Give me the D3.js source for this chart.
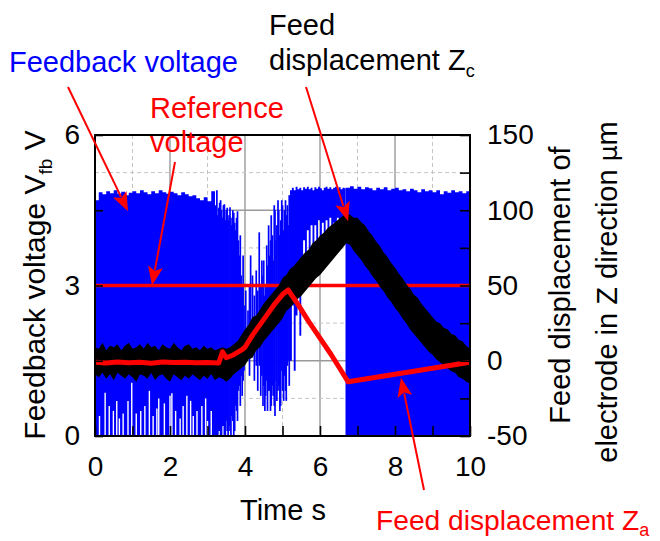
<!DOCTYPE html>
<html>
<head>
<meta charset="utf-8">
<script src="https://cdn.jsdelivr.net/npm/d3@7"></script>
<style>
    body { margin: 0; background: #fff; }
    text { font-family: "Liberation Sans", Arial, sans-serif; }
</style>
</head>
<body>
<div id="chart-area"></div>
<script>
// feedback voltage (V), dense part before approach: upper edge [t, V]
var fbTopStart = [[0, 4.70], [0.1, 4.86], [0.2, 4.82], [0.3, 4.88], [0.4, 4.84], [0.5, 4.90], [0.6, 4.83], [0.7, 4.87],
    [0.8, 4.80], [0.9, 4.85], [1.0, 4.88], [1.1, 4.84], [1.2, 4.90], [1.3, 4.86], [1.4, 4.82], [1.5, 4.88], [1.6, 4.84],
    [1.7, 4.90], [1.8, 4.86], [1.9, 4.83], [2.0, 4.87], [2.1, 4.84], [2.2, 4.80], [2.3, 4.86], [2.4, 4.82], [2.5, 4.78],
    [2.6, 4.80], [2.7, 4.74], [2.8, 4.70], [2.9, 4.76], [3.0, 4.68], [3.1, 4.88], [3.2, 4.60], [3.25, 4.60]];
// white gaps rising from the bottom of that part [t, V]
var fbGapsStart = [[0.12, 0.4], [0.27, 0.86], [0.38, 0.6], [0.49, 0.5], [0.58, 0.7], [0.65, 0.35], [0.75, 0.45],
    [0.88, 0.7], [0.98, 1.06], [1.1, 0.45], [1.22, 0.5], [1.33, 0.6], [1.45, 0.9], [1.55, 0.4], [1.65, 0.55],
    [1.7, 0.75], [1.85, 0.65], [2.0, 0.8], [2.05, 0.85], [2.15, 0.5], [2.27, 0.35], [2.35, 0.6], [2.45, 0.8],
    [2.55, 0.7], [2.62, 0.4], [2.72, 0.5], [2.85, 0.6], [2.95, 0.75], [3.0, 0.3], [3.1, 0.5]];
// single spikes while the electrode comes down [t, low V, high V]
var fbSpikes = [[3.25, 0.0, 4.9], [3.275, 0.0, 4.4], [3.3, 0.1, 4.55], [3.325, 0.1, 4.65], [3.35, 0.0, 4.7],
    [3.375, 0.0, 4.5], [3.4, 0.2, 4.35], [3.425, 0.2, 4.6], [3.45, 0.0, 4.62], [3.475, 0.0, 4.3], [3.5, 0.3, 4.5],
    [3.525, 0.1, 4.55], [3.55, 0.0, 4.3], [3.575, 0.2, 4.4], [3.6, 0.1, 4.56], [3.625, 0.0, 4.35], [3.65, 0.4, 4.2],
    [3.675, 0.3, 4.5], [3.7, 0.0, 4.45], [3.725, 0.1, 4.25], [3.75, 0.6, 4.1], [3.775, 0.5, 4.35], [3.8, 0.3, 4.48],
    [3.825, 0.9, 3.9], [3.85, 1.0, 3.6], [3.875, 0.6, 4.0], [3.9, 1.2, 3.2], [3.925, 0.8, 3.0], [3.95, 1.1, 3.6],
    [3.975, 1.3, 2.6], [4.02, 1.5, 2.9], [4.08, 1.6, 2.5], [4.12, 1.2, 3.0], [4.15, 1.7, 3.6], [4.2, 1.6, 3.2],
    [4.25, 1.1, 2.8], [4.3, 1.4, 3.3], [4.34, 0.9, 2.9], [4.38, 1.4, 4.06], [4.42, 0.8, 3.0], [4.45, 1.2, 3.5],
    [4.48, 0.6, 3.2], [4.5, 1.0, 3.5], [4.53, 0.5, 2.8], [4.55, 0.8, 3.0], [4.58, 1.1, 3.8], [4.6, 0.5, 3.4],
    [4.63, 0.9, 4.2], [4.65, 0.9, 3.6], [4.68, 0.5, 3.9], [4.7, 0.6, 4.4], [4.73, 1.0, 4.0], [4.75, 0.8, 3.5],
    [4.78, 0.6, 4.6], [4.8, 0.4, 4.5], [4.83, 1.1, 3.9], [4.85, 0.7, 4.2], [4.88, 0.9, 4.7], [4.9, 1.0, 4.5],
    [4.93, 0.5, 4.0], [4.95, 0.6, 4.3], [4.98, 1.3, 4.7], [5.0, 0.9, 4.6], [5.03, 0.7, 4.1], [5.05, 1.2, 4.5],
    [5.08, 0.9, 4.7], [5.1, 0.7, 4.4], [5.13, 1.4, 4.6], [5.15, 1.5, 4.2], [5.18, 1.0, 4.8]];
// band hanging from the top while retracting [t, low V, high V]
var fbHanging = [[5.2, 1.5, 4.9], [5.25, 2.6, 4.95], [5.3, 1.3, 4.9], [5.35, 2.4, 4.97], [5.4, 3.1, 4.92], [5.45, 2.0, 4.95],
    [5.5, 3.4, 4.9], [5.55, 3.9, 4.96], [5.6, 3.3, 4.93], [5.65, 4.1, 4.97], [5.7, 3.7, 4.92], [5.75, 4.2, 4.95],
    [5.8, 3.5, 4.9], [5.85, 4.2, 4.96], [5.9, 3.8, 4.93], [5.95, 4.3, 4.97], [6.0, 3.9, 4.94], [6.05, 4.25, 4.9],
    [6.1, 3.6, 4.95], [6.15, 4.3, 4.97], [6.2, 4.0, 4.93], [6.25, 4.35, 4.96], [6.3, 3.9, 4.92], [6.35, 4.25, 4.95],
    [6.4, 4.1, 4.97], [6.45, 4.35, 4.93], [6.5, 4.0, 4.96], [6.55, 4.25, 4.92], [6.6, 3.8, 4.95], [6.65, 4.3, 4.94],
    [6.68, 4.3, 4.94]];
// dense part after contact: upper edge [t, V]
var fbTopEnd = [[6.68, 4.95], [6.8, 4.98], [6.9, 4.93], [7.0, 4.97], [7.1, 4.92], [7.2, 4.96], [7.3, 4.94], [7.4, 4.90],
    [7.5, 4.95], [7.6, 4.92], [7.7, 4.96], [7.8, 4.90], [7.9, 4.93], [8.0, 4.95], [8.1, 4.90], [8.2, 4.92], [8.3, 4.88],
    [8.4, 4.93], [8.5, 4.90], [8.6, 4.86], [8.7, 4.92], [8.8, 4.88], [8.9, 4.90], [9.0, 4.86], [9.1, 4.90], [9.2, 4.82],
    [9.3, 4.88], [9.4, 4.85], [9.5, 4.90], [9.6, 4.86], [9.7, 4.88], [9.8, 4.84], [9.9, 4.88], [10.0, 4.86]];

var refVoltage = 3;

// feed displacement Zc (um), noisy band, one sample every 0.1 s
var zcStep = 0.1;
var zcLow = [-9, -11, -8, -12, -9, -13, -8, -10, -12, -9,
    -11, -14, -9, -10, -12, -8, -13, -10, -9, -12,
    -14, -9, -11, -13, -10, -12, -9, -11, -13, -10,
    -12, -9, -13, -11, -12, -14, -12, -9, -7, -5,
    -3, 1, 2, 7, 9, 13, 16, 19, 22, 25,
    28, 33, 35, 38, 41, 43, 46, 49, 52, 55,
    57, 60, 63, 66, 69, 72, 75, 78, 77, 73,
    70, 67, 63, 60, 56, 53, 49, 46, 42, 39,
    35, 32, 28, 25, 21, 18, 15, 12, 9, 6,
    4, 1, -1, -3, -5, -7, -8, -11, -12, -14,
    -15];
var zcHigh = [9, 8, 12, 7, 10, 9, 11, 7, 10, 12,
    8, 9, 11, 8, 12, 9, 10, 7, 11, 9,
    8, 12, 9, 7, 10, 11, 8, 9, 7, 10,
    8, 9, 7, 8, 9, 8, 9, 11, 13, 17,
    21, 24, 29, 30, 34, 38, 41, 44, 47, 50,
    55, 57, 61, 63, 66, 69, 72, 74, 78, 80,
    83, 85, 88, 90, 92, 94, 96, 98, 97, 95,
    95, 92, 90, 86, 83, 79, 76, 72, 69, 65,
    62, 58, 55, 51, 48, 44, 42, 38, 35, 32,
    29, 26, 25, 22, 21, 18, 17, 14, 13, 10,
    8];

// feed displacement Za (um)
var zaTime = [0, 0.3, 0.6, 0.9, 1.2, 1.5, 1.8, 2.1, 2.4, 2.7, 3.0, 3.3, 3.4, 3.5, 3.6, 3.7, 3.9, 4.0, 4.2, 4.4,
    4.6, 4.8, 5.0, 5.15, 5.4, 5.7, 6.0, 6.3, 6.6, 6.75, 7.0, 7.5, 8.0, 8.5, 9.0, 9.5, 10];
var zaValue = [-1, -1.5, -0.8, -1.3, -1, -1.6, -0.9, -1.2, -1, -1.4, -1.1, -1.5, 6, 2, 3, 4, 7, 9, 17, 24,
    31, 38, 44, 47, 38, 26, 15, 4, -8, -14, -13, -11, -9, -7, -5, -3, -1];

var xTicks = [0, 1, 2, 3, 4, 5, 6, 7, 8, 9, 10];
var xLabels = [0, 2, 4, 6, 8, 10];
var leftTicks = [0, 1.5, 3, 4.5, 6];
var leftLabels = [0, 3, 6];
var rightTicks = [-50, -25, 0, 25, 50, 75, 100, 125, 150];
var rightLabels = [-50, 0, 50, 100, 150];


function FeedChart(_parentElement) {
    this.parentElement = _parentElement;
    this.initVis();
}

FeedChart.prototype.initVis = function () {
    var vis = this;

    vis.margin = { top: 135, right: 190, bottom: 105, left: 95 };
    vis.width = 660 - vis.margin.left - vis.margin.right;
    vis.height = 541 - vis.margin.top - vis.margin.bottom;

    vis.root = d3.select("#" + vis.parentElement).append("svg")
        .attr("width", 660)
        .attr("height", 541);
    vis.svg = vis.root.append("g")
        .attr("transform", "translate(" + vis.margin.left + "," + vis.margin.top + ")");

    vis.x = d3.scaleLinear().domain([0, 10]).range([0, vis.width]);
    vis.yV = d3.scaleLinear().domain([0, 6]).range([vis.height, 0]);
    vis.yZ = d3.scaleLinear().domain([-50, 150]).range([vis.height, 0]);

    vis.svg.append("clipPath").attr("id", "plot-clip")
        .append("rect").attr("width", vis.width).attr("height", vis.height);

    this.updateVis();
}

FeedChart.prototype.updateVis = function () {
    var vis = this;
    var x = vis.x, yV = vis.yV, yZ = vis.yZ;

    // grid
    var grid = vis.svg.append("g");
    xTicks.forEach(function (t) {
        if (t == 0 || t == 10) return;
        var major = t % 2 == 0;
        grid.append("line")
            .attr("x1", x(t)).attr("x2", x(t)).attr("y1", 0).attr("y2", vis.height)
            .attr("stroke", major ? "#9a9a9a" : "#c4c4c4")
            .attr("stroke-width", major ? 1.4 : 1)
            .attr("stroke-dasharray", major ? null : "4,3");
    });
    rightTicks.forEach(function (z) {
        if (z == -50 || z == 150) return;
        var major = z % 50 == 0;
        grid.append("line")
            .attr("x1", 0).attr("x2", vis.width).attr("y1", yZ(z)).attr("y2", yZ(z))
            .attr("stroke", major ? "#9a9a9a" : "#c4c4c4")
            .attr("stroke-width", major ? 1.4 : 1)
            .attr("stroke-dasharray", major ? null : "4,3");
    });

    var plot = vis.svg.append("g").attr("clip-path", "url(#plot-clip)");

    // feedback voltage
    var blue = "#0000ff";
    var topArea = d3.area()
        .x(function (d) { return x(d[0]); })
        .y0(yV(0))
        .y1(function (d) { return yV(d[1]); })
        .curve(d3.curveStepAfter);
    plot.append("path").datum(fbTopStart).attr("fill", blue).attr("d", topArea);
    plot.append("path").datum(fbTopEnd).attr("fill", blue).attr("d", topArea);

    plot.selectAll(".gap").data(fbGapsStart).enter().append("line")
        .attr("x1", function (d) { return x(d[0]); })
        .attr("x2", function (d) { return x(d[0]); })
        .attr("y1", yV(0))
        .attr("y2", function (d) { return yV(d[1]); })
        .attr("stroke", "#fff").attr("stroke-width", 1.4);

    plot.selectAll(".spike").data(fbSpikes).enter().append("line")
        .attr("x1", function (d) { return x(d[0]); })
        .attr("x2", function (d) { return x(d[0]); })
        .attr("y1", function (d) { return yV(d[1]); })
        .attr("y2", function (d) { return yV(d[2]); })
        .attr("stroke", blue).attr("stroke-width", 1.7);

    plot.append("path").datum(fbHanging)
        .attr("fill", blue)
        .attr("d", d3.area()
            .x(function (d) { return x(d[0]); })
            .y0(function (d) { return yV(d[1]); })
            .y1(function (d) { return yV(d[2]); })
            .curve(d3.curveStepAfter));

    // reference voltage
    plot.append("line")
        .attr("x1", x(0)).attr("x2", x(10))
        .attr("y1", yV(refVoltage)).attr("y2", yV(refVoltage))
        .attr("stroke", "#ff0000").attr("stroke-width", 3.5);

    // Zc band
    plot.append("path").datum(zcLow)
        .attr("fill", "#000")
        .attr("d", d3.area()
            .x(function (d, i) { return x(i * zcStep); })
            .y0(function (d) { return yZ(d); })
            .y1(function (d, i) { return yZ(zcHigh[i]); }));

    // Za
    plot.append("path").datum(zaValue)
        .attr("fill", "none")
        .attr("stroke", "#ff0000")
        .attr("stroke-width", 5)
        .attr("stroke-linejoin", "round")
        .attr("d", d3.line()
            .x(function (d, i) { return x(zaTime[i]); })
            .y(function (d) { return yZ(d); }));

    // frame
    vis.svg.append("rect")
        .attr("width", vis.width).attr("height", vis.height)
        .attr("fill", "none").attr("stroke", "#000").attr("stroke-width", 2);

    // axes, ticks pointing inwards
    var xAxis = vis.svg.append("g")
        .attr("transform", "translate(0," + vis.height + ")")
        .call(d3.axisBottom(x).tickValues(xTicks).tickSize(-10).tickPadding(20)
            .tickFormat(function (d) { return xLabels.indexOf(d) >= 0 ? d : ""; }));
    var leftAxis = vis.svg.append("g")
        .call(d3.axisLeft(yV).tickValues(leftTicks).tickSize(-8).tickPadding(15)
            .tickFormat(function (d) { return leftLabels.indexOf(d) >= 0 ? d : ""; }));
    var rightAxis = vis.svg.append("g")
        .attr("transform", "translate(" + vis.width + ",0)")
        .call(d3.axisRight(yZ).tickValues(rightTicks).tickSize(-10).tickPadding(17)
            .tickFormat(function (d) { return rightLabels.indexOf(d) >= 0 ? d : ""; }));
    [xAxis, leftAxis, rightAxis].forEach(function (a) {
        a.select(".domain").remove();
        a.selectAll("line").attr("stroke", "#000").attr("stroke-width", 1.6);
        a.selectAll("text").attr("font-size", 28).attr("fill", "#000")
            .style("font-family", '"Liberation Sans", Arial, sans-serif');
    });

    // axis titles
    var root = vis.root;
    root.append("text")
        .attr("x", 283).attr("y", 520)
        .attr("text-anchor", "middle").attr("font-size", 29)
        .text("Time s");

    var lt = root.append("text")
        .attr("transform", "translate(45,285) rotate(-90)")
        .attr("text-anchor", "middle").attr("font-size", 30);
    lt.append("tspan").text("Feedback voltage V");
    lt.append("tspan").attr("font-size", 19).attr("dy", 7).text("fb");
    lt.append("tspan").attr("dy", -7).text(" V");

    root.append("text")
        .attr("transform", "translate(570,285) rotate(-90)")
        .attr("text-anchor", "middle").attr("font-size", 29)
        .text("Feed displacement of");
    var rt = root.append("text")
        .attr("transform", "translate(617,292) rotate(-90)")
        .attr("text-anchor", "middle").attr("font-size", 29);
    rt.append("tspan").text("electrode in Z direction ");
    rt.append("tspan").style("font-family", '"DejaVu Sans", sans-serif').attr("font-size", 25).text("\u03bc");
    rt.append("tspan").text("m");

    // annotations
    function label(px, py, color, main, sub, size, subDy) {
        var t = root.append("text").attr("x", px).attr("y", py)
            .attr("font-size", size || 29).attr("fill", color);
        t.append("tspan").text(main);
        if (sub) t.append("tspan").attr("font-size", 18).attr("dy", subDy || 7).text(sub);
    }
    label(9, 72, "#0000ff", "Feedback voltage");
    label(150, 118, "#ff0000", "Reference");
    label(150, 152, "#ff0000", "voltage");
    label(269, 35, "#000", "Feed");
    label(269, 70, "#000", "displacement Z", "c");
    label(376, 530, "#ff0000", "Feed displacement Z", "a", 28.2, 6);

    function arrow(x1, y1, x2, y2) {
        var dx = x2 - x1, dy = y2 - y1;
        var len = Math.sqrt(dx * dx + dy * dy);
        var ux = dx / len, uy = dy / len;
        var hl = 19, hw = 7.5;
        var bx = x2 - ux * hl, by = y2 - uy * hl;
        root.append("line")
            .attr("x1", x1).attr("y1", y1).attr("x2", bx + ux * 3).attr("y2", by + uy * 3)
            .attr("stroke", "#ff0000").attr("stroke-width", 2);
        root.append("path")
            .attr("d", "M" + x2 + "," + y2 +
                "L" + (bx - uy * hw) + "," + (by + ux * hw) +
                "L" + (bx + ux * 4) + "," + (by + uy * 4) +
                "L" + (bx + uy * hw) + "," + (by - ux * hw) + "Z")
            .attr("fill", "#ff0000");
    }
    var ox = vis.margin.left, oy = vis.margin.top;
    arrow(68, 87, ox + x(0.88), oy + yV(4.48));
    arrow(175, 162, ox + x(1.52), oy + yV(refVoltage));
    arrow(306, 87, ox + x(6.75), oy + yZ(92.7));
    arrow(424, 490, ox + x(8.16), oy + yZ(-11.3));
}

var chart = new FeedChart("chart-area");
</script>
</body>
</html>
